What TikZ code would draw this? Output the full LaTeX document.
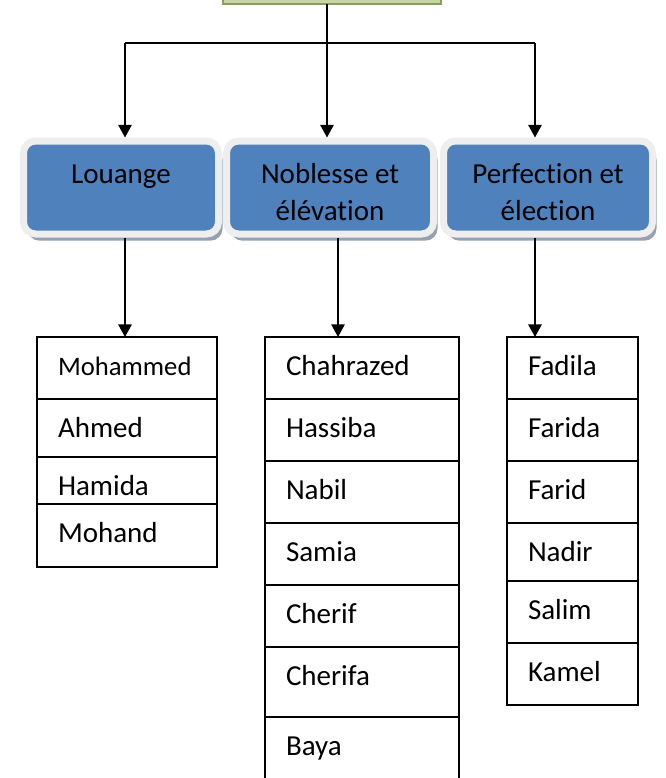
\documentclass[tikz,border=0pt]{standalone}
\usepackage{fontspec}
\setmainfont{Carlito}[Ligatures={NoCommon}]
\usepackage{tikz}
\usetikzlibrary{positioning, shadows, arrows.meta}

\definecolor{boxblue}{RGB}{79,129,189}
\definecolor{rimgray}{RGB}{238,238,238}
\definecolor{shadegray}{RGB}{150,160,178}
\definecolor{leafgreen}{RGB}{198,212,166}
\definecolor{leafline}{RGB}{138,158,96}

\newcommand{\nmfont}{\fontsize{21.75}{27.75}\selectfont}
\newcommand{\nmfontsm}{\fontsize{20}{24}\selectfont}

\begin{document}
\begin{tikzpicture}[x=0.75pt,y=-0.75pt,>={Triangle[length=9.5pt,width=10pt]},line width=1.5pt,theme/.style={rectangle,rounded corners=9pt,draw=rimgray,line width=5.25pt,fill=boxblue,drop shadow={shadow xshift=3pt,shadow yshift=-5pt,fill=shadegray,opacity=1},minimum height=69.75pt,text height=49.25pt,text depth=0pt,align=center,font=\nmfont}]
\tikzstyle{leaf} = [rectangle, draw=leafline, fill=leafgreen, line width=1pt, outer sep=0pt]
\tikzstyle{cell} = [rectangle, draw, line width=1.3pt, outer sep=0pt, inner xsep=15.75pt, inner ysep=0pt, text height=28.5pt, align=left, font=\nmfont]
\tikzstyle{colA} = [cell, text width=103.5pt]
\tikzstyle{colB} = [cell, text width=114pt]
\tikzstyle{colC} = [cell, text width=66.75pt]

\useasboundingbox (0,0) rectangle (666,778);

% top box (cut off)
\node (top) at (332,4) [leaf, anchor=south, minimum width=163.5pt, minimum height=30pt] {};

% the three themes
\node (lou) at (121,187.5) [theme, minimum width=146.25pt] {Louange\\\mbox{}};
\node (nob) at (330,187.5) [theme, minimum width=155.25pt] {Noblesse et\\élévation};
\node (perf) at (548,187.5) [theme, minimum width=156.75pt] {Perfection et\\élection};

% names, first column
\node (mo1) at (37,337) [colA, anchor=north west, text depth=18pt, font=\nmfontsm] {Mohammed};
\node (mo2) [colA, below=0pt of mo1, text depth=15pt] {Ahmed};
\node (mo3) [colA, below=0pt of mo2, text depth=6.75pt] {Hamida};
\node (mo4) [colA, below=0pt of mo3, text depth=18.75pt] {Mohand};

% names, second column
\node (ch1) at (265,337) [colB, anchor=north west, text depth=18pt] {Chahrazed};
\node (ch2) [colB, below=0pt of ch1, text depth=18pt] {Hassiba};
\node (ch3) [colB, below=0pt of ch2, text depth=18pt] {Nabil};
\node (ch4) [colB, below=0pt of ch3, text depth=18pt] {Samia};
\node (ch5) [colB, below=0pt of ch4, text depth=18pt] {Cherif};
\node (ch6) [colB, below=0pt of ch5, text depth=24pt] {Cherifa};
\node (ch7) [colB, below=0pt of ch6, text depth=18.75pt] {Baya};

% names, third column
\node (fa1) at (507,337) [colC, anchor=north west, text depth=18pt] {Fadila};
\node (fa2) [colC, below=0pt of fa1, text depth=18pt] {Farida};
\node (fa3) [colC, below=0pt of fa2, text depth=18pt] {Farid};
\node (fa4) [colC, below=0pt of fa3, text depth=15pt] {Nadir};
\node (fa5) [colC, below=0pt of fa4, text depth=18pt] {Salim};
\node (fa6) [colC, below=0pt of fa5, text depth=18pt] {Kamel};

\coordinate (j1) at (125,43);
\coordinate (j2) at (327,43);
\coordinate (j3) at (535,43);
\coordinate (d2) at (338,300);

\draw[->] (top.south -| j2) -- (nob.north -| j2);
\draw (j1) -- (j3);
\draw[->] (j1) -- (lou.north -| j1);
\draw[->] (j3) -- (perf.north -| j3);

\draw[->] (lou.south -| j1) -- (mo1.north -| j1);
\draw[->] (nob.south -| d2) -- (ch1.north -| d2);
\draw[->] (perf.south -| j3) -- (fa1.north -| j3);

\end{tikzpicture}
\end{document}
